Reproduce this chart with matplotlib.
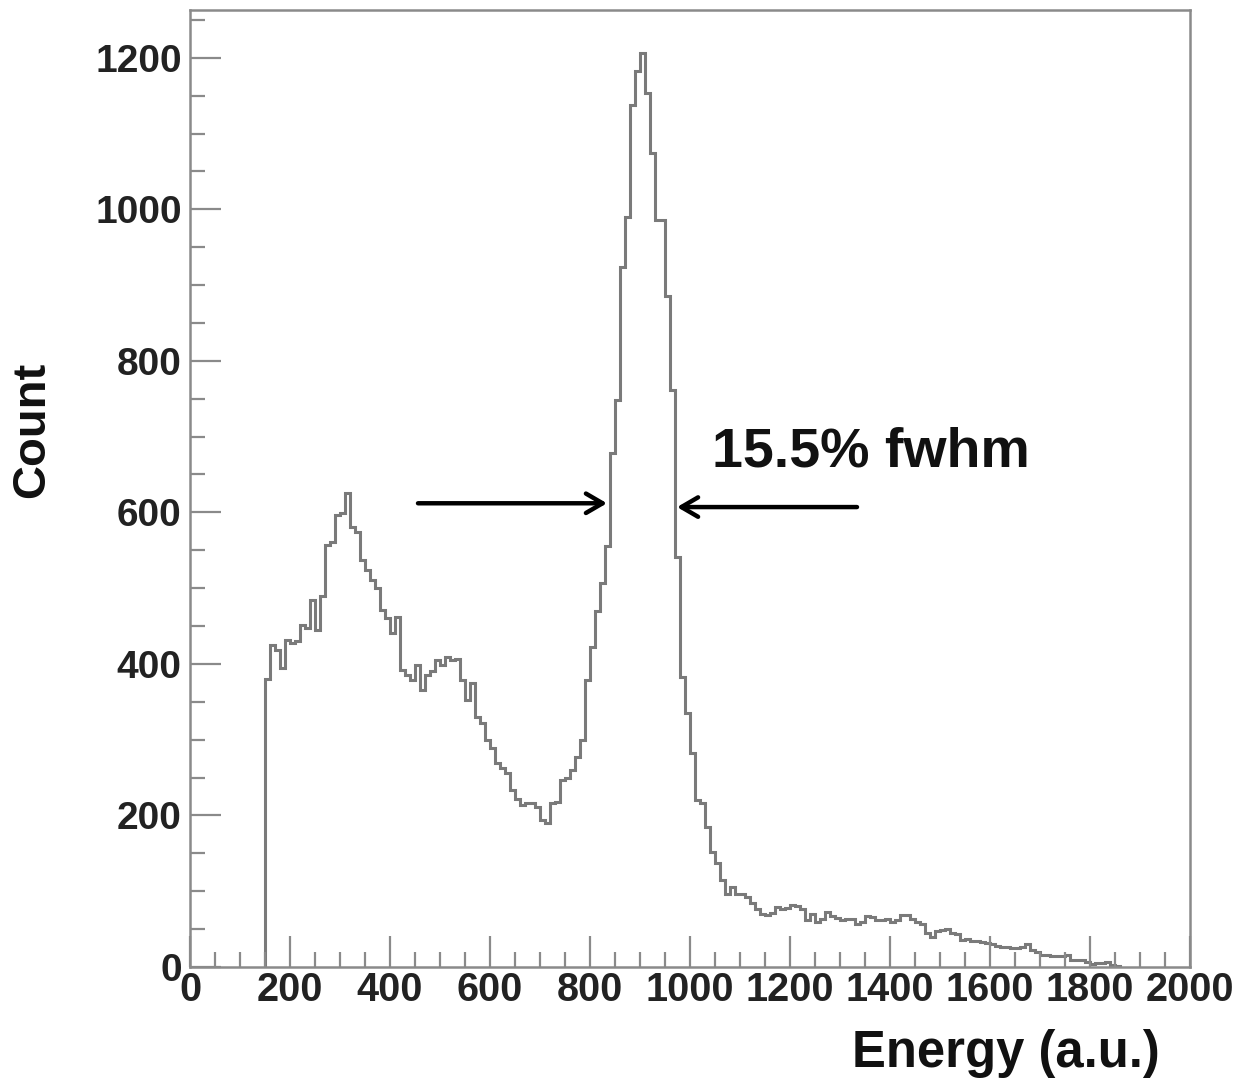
import numpy as np
import matplotlib
matplotlib.use("Agg")
import matplotlib.pyplot as plt
from matplotlib import font_manager
from matplotlib.ticker import MultipleLocator

# ---- data -------------------------------------------------------------
bin_start = 150
bin_width = 10
counts = [
    380, 425, 418, 395, 432, 428, 430, 452, 448, 484,   # 150-240
    445, 489, 557, 561, 597, 599, 626, 581, 574, 537,   # 250-340
    524, 511, 500, 471, 460, 441, 462, 392, 385, 379,   # 350-440
    399, 366, 385, 390, 405, 398, 409, 405, 407, 379,   # 450-540
    352, 375, 330, 322, 300, 289, 269, 262, 256, 234,   # 550-640
    222, 214, 216, 216, 211, 194, 190, 216, 218, 247,   # 650-740
    250, 260, 277, 300, 379, 422, 470, 507, 555, 678,   # 750-840
    748, 924, 990, 1138, 1182, 1206, 1153, 1074, 986, 986,  # 850-940
    885, 762, 541, 383, 335, 282, 220, 216, 185, 152,   # 950-1040
    137, 115, 97, 106, 97, 97, 93, 84, 77, 70,          # 1050-1140
    69, 71, 79, 76, 78, 82, 80, 77, 62, 70,             # 1150-1240
    60, 64, 73, 67, 65, 62, 63, 63, 57, 60,             # 1250-1340
    67, 66, 62, 62, 63, 60, 62, 69, 68, 64,             # 1350-1440
    60, 57, 45, 40, 48, 49, 50, 45, 44, 36,             # 1450-1540
    37, 34, 34, 33, 32, 31, 28, 27, 27, 25,             # 1550-1640
    25, 26, 31, 22, 20, 16, 16, 15, 14, 14,             # 1650-1740
    16, 9, 9, 9, 7, 4, 5, 5, 6, 3, 1,                   # 1750-1850
]
edges = bin_start + bin_width * np.arange(len(counts) + 1)

x_ticks = [0, 200, 400, 600, 800, 1000, 1200, 1400, 1600, 1800, 2000]
y_ticks = [0, 200, 400, 600, 800, 1000, 1200]
annotation = "15.5% fwhm"
x_title = "Energy (a.u.)"
y_title = "Count"
left_arrow = (456, 834, 612)
right_arrow = (1334, 974, 607)
label_pos = (1044, 660)

# ---- fonts -------------------------------------------------------------
names = {f.name for f in font_manager.fontManager.ttflist}
base = "Liberation Sans" if "Liberation Sans" in names else "DejaVu Sans"

# ---- figure ------------------------------------------------------------
W, H = 1254, 1091
fig = plt.figure(figsize=(W / 100, H / 100), dpi=100)
ax = fig.add_axes([190 / W, 1 - 967 / H, 1000 / W, 957 / H])

gray = "#7a7a7a"
ax.stairs(counts, edges, baseline=0, fill=False, color=gray, lw=2.2)

ax.set_xlim(0, 2000)
ax.set_ylim(0, 1263)

for s in ax.spines.values():
    s.set_color("#8a8a8a")
    s.set_linewidth(1.8)

ax.set_xticks(x_ticks)
ax.set_yticks(y_ticks)
ax.xaxis.set_minor_locator(MultipleLocator(50))
ax.yaxis.set_minor_locator(MultipleLocator(50))
ax.tick_params(which="both", direction="in", color="#8a8a8a", width=1.6,
               top=False, right=False)
ax.tick_params(which="major", length=22)
ax.tick_params(which="minor", length=11)
ax.tick_params(axis="x", pad=3)
ax.tick_params(axis="y", pad=6)

for lab in ax.get_xticklabels():
    lab.set_fontfamily(base)
    lab.set_fontweight("bold")
    lab.set_fontsize(28.5)
    lab.set_color("#222222")
for lab in ax.get_yticklabels():
    lab.set_fontfamily(base)
    lab.set_fontweight("bold")
    lab.set_fontsize(28)
    lab.set_color("#222222")

# axis titles placed in figure pixel coordinates
fig.text(1160 / W, 1 - 1067 / H, x_title, fontsize=36.5, fontweight="bold",
         family=base, color="#111111", ha="right", va="baseline")
fig.text(32 / W, 1 - 430 / H, y_title, fontsize=34, fontweight="bold",
         family=base, color="#111111", ha="center", va="center", rotation=90)

aprops = dict(arrowstyle="->,head_length=1.2,head_width=0.7", lw=3.2,
              color="black", shrinkA=0, shrinkB=0)
ax.annotate("", xy=(left_arrow[1], left_arrow[2]),
            xytext=(left_arrow[0], left_arrow[2]), arrowprops=aprops)
ax.annotate("", xy=(right_arrow[1], right_arrow[2]),
            xytext=(right_arrow[0], right_arrow[2]), arrowprops=aprops)

ax.text(label_pos[0], label_pos[1], annotation, fontsize=40, fontweight="bold",
        family=base, color="#111111", ha="left", va="baseline")

fig.savefig("out.png", dpi=100, facecolor="white")
